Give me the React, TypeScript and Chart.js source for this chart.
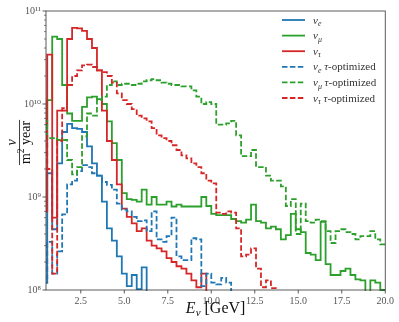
import React, { useEffect, useRef } from 'react';
import { Chart, registerables } from 'chart.js';

Chart.register(...registerables);

// ---------- data ----------
// Histogram: uniform bins of width 20/70 GeV; the arrays hold bins 1..69 (bin 0 lies left of the axis).
const BIN_WIDTH = 20 / 70;
const FIRST_BIN = 1;
const BELOW_AXIS = 1e6; // empty bins (0 events) are drawn below the 1e8 floor

const X_TICKS = [2.5, 5, 7.5, 10, 12.5, 15, 17.5, 20];
const Y_TICKS = [1e8, 1e9, 1e10, 1e11];
const Y_TICK_LABELS = ['10⁸', '10⁹', '10¹⁰', '10¹¹'];

const nuE = [
  1.2e8, 1.8e9, 4.5e8, 2.3e9, 5.0e9, 6.1e9, 5.5e9, 5.4e9, 5.0e9, 3.5e9,
  2.3e9, 1.7e9, 8.9e8, 4.6e8, 3.4e8, 2.3e8, 1.5e8, 1.1e8, 1.45e8, 1.02e8,
  1.75e8, 0, 0, 0, 0, 0, 0, 0, 0, 0,
  0, 0, 0, 0, 0, 0, 0, 0, 0, 0,
  0, 0, 0, 0, 0, 0, 0, 0, 0, 0,
  0, 0, 0, 0, 0, 0, 0, 0, 0, 0,
  0, 0, 0, 0, 0, 0, 0, 0, 0,
];

const nuMu = [
  6.0e9, 1.1e10, 5.3e10, 5.0e10, 1.6e10, 7.9e9, 6.6e9, 6.6e9, 9.3e9, 1.18e10,
  1.2e10, 1.13e10, 1.0e10, 6.5e9, 3.8e9, 2.5e9, 1.1e9, 9.5e8, 9.3e8, 8.9e8,
  1.2e9, 8.3e8, 1.0e9, 8.3e8, 8.3e8, 8.9e8, 7.9e8, 8.3e8, 7.9e8, 7.9e8,
  7.9e8, 7.9e8, 1.0e9, 8.0e8, 6.6e8, 6.4e8, 6.4e8, 6.4e8, 5.8e8, 5.5e8,
  5.3e8, 5.7e8, 8.3e8, 5.5e8, 5.3e8, 4.6e8, 4.8e8, 4.5e8, 3.5e8, 3.9e8,
  6.6e8, 4.5e8, 4.2e8, 2.5e8, 2.4e8, 2.1e8, 5.4e8, 1.9e8, 1.45e8, 1.45e8,
  1.6e8, 1.7e8, 1.45e8, 1.3e8, 1.27e8, 0, 1.27e8, 1.2e8, 1.0e8,
];

const nuTau = [
  7.0e8, 3.4e10, 6.0e8, 8.5e9, 8.5e9, 5.0e10, 6.6e10, 6.5e10, 6.1e10, 5.0e10,
  4.0e10, 2.3e10, 8.5e9, 4.0e9, 2.5e9, 1.37e9, 7.5e8, 6.1e8, 5.2e8, 4.3e8,
  4.6e8, 3.4e8, 3.0e8, 2.8e8, 2.6e8, 2.2e8, 2.0e8, 1.8e8, 1.7e8, 1.5e8,
  1.27e8, 1.07e8, 1.5e8, 0, 0, 0, 0, 0, 0, 0,
  0, 0, 0, 0, 0, 0, 0, 0, 0, 0,
  0, 0, 0, 0, 0, 0, 0, 0, 0, 0,
  0, 0, 0, 0, 0, 0, 0, 0, 0,
];

const nuEOpt = [
  1.2e8, 3.3e8, 1.5e8, 2.6e8, 6.5e8, 1.37e9, 1.5e9, 1.9e9, 2.2e9, 2.1e9,
  1.8e9, 1.7e9, 1.45e9, 1.35e9, 1.2e9, 8.5e8, 7.3e8, 7.0e8, 6.1e8, 5.5e8,
  5.6e8, 4.3e8, 7.0e8, 3.5e8, 3.3e8, 3.8e8, 6.0e8, 2.3e8, 2.1e8, 2.1e8,
  3.6e8, 3.5e8, 1.1e8, 1.5e8, 1.2e8, 1.15e8, 1.35e8, 1.2e8, 0, 0,
  0, 0, 0, 0, 0, 0, 0, 0, 0, 0,
  0, 0, 0, 0, 0, 0, 0, 0, 0, 0,
  0, 0, 0, 0, 0, 0, 0, 0, 0,
];

const nuMuOpt = [
  6.5e9, 4.3e9, 4.3e9, 4.1e9, 4.1e9, 2.5e9, 1.75e9, 2.1e9, 4.5e9, 7.9e9,
  7.5e9, 1.1e10, 1.2e10, 1.6e10, 1.75e10, 1.6e10, 1.65e10, 1.65e10, 1.6e10, 1.65e10,
  1.75e10, 1.8e10, 1.85e10, 1.8e10, 1.7e10, 1.65e10, 1.6e10, 1.6e10, 1.55e10, 1.55e10,
  1.4e10, 1.2e10, 1.0e10, 1.05e10, 1.0e10, 6.0e9, 6.0e9, 6.2e9, 6.6e9, 4.6e9,
  2.75e9, 2.75e9, 3.2e9, 2.1e9, 2.1e9, 1.7e9, 1.5e9, 1.5e9, 1.3e9, 8.0e8,
  9.5e8, 4.0e8, 8.5e8, 5.5e8, 5.3e8, 5.7e8, 5.5e8, 4.3e8, 3.2e8, 4.3e8,
  4.5e8, 4.2e8, 4.0e8, 3.5e8, 3.8e8, 3.8e8, 4.3e8, 3.5e8, 3.1e8,
];

const nuTauOpt = [
  5.0e9, 2.0e9, 1.5e8, 4.0e9, 9.0e9, 1.6e10, 2.0e10, 2.3e10, 2.6e10, 2.65e10,
  2.5e10, 2.3e10, 2.2e10, 2.0e10, 1.7e10, 1.3e10, 1.1e10, 1.0e10, 8.8e9, 7.5e9,
  7.0e9, 6.5e9, 5.5e9, 4.6e9, 4.3e9, 4.0e9, 3.6e9, 3.2e9, 2.8e9, 2.6e9,
  2.3e9, 2.1e9, 1.8e9, 1.5e9, 1.4e9, 6.8e8, 6.6e8, 7.0e8, 6.8e8, 4.6e8,
  2.3e8, 2.4e8, 2.8e8, 1.7e8, 1.07e8, 1.27e8, 1.05e8, 0, 0, 0,
  0, 0, 0, 0, 0, 0, 0, 0, 0, 0,
  0, 0, 0, 0, 0, 0, 0, 0, 0,
];

const SERIES = [nuE, nuMu, nuTau, nuEOpt, nuMuOpt, nuTauOpt];
const SERIES_LABELS = ['ν_e', 'ν_μ', 'ν_τ', 'ν_e τ-optimized', 'ν_μ τ-optimized', 'ν_τ τ-optimized'];

// ---------- styles ----------
const COLORS = ['#1f77b4', '#2ca02c', '#d62728', '#1f77b4', '#2ca02c', '#d62728'];
const DASHED = [false, false, false, true, true, true];
const DASH = [5.5, 2.4];
const LINE_WIDTH = 1.8;
const FONT = "'Liberation Serif', 'DejaVu Serif', serif";

type Part = { text: string; italic?: boolean; size: number; dy?: number };

function partsWidth(ctx: CanvasRenderingContext2D, parts: Part[]) {
  let w = 0;
  for (const p of parts) {
    ctx.font = `${p.italic ? 'italic ' : ''}${p.size}px ${FONT}`;
    w += ctx.measureText(p.text).width;
  }
  return w;
}

function drawParts(ctx: CanvasRenderingContext2D, x: number, y: number, parts: Part[]) {
  let cx = x;
  for (const p of parts) {
    ctx.font = `${p.italic ? 'italic ' : ''}${p.size}px ${FONT}`;
    ctx.fillText(p.text, cx, y + (p.dy || 0));
    cx += ctx.measureText(p.text).width;
  }
  return cx;
}

function labelParts(label: string, size: number): Part[] {
  // 'ν_e τ-optimized' -> ν (italic) + subscript + optional ' τ-optimized'
  const [head, ...rest] = label.split(' ');
  const [base, sub] = head.split('_');
  const parts: Part[] = [
    { text: base, italic: true, size },
    { text: sub, italic: true, size: size * 0.72, dy: size * 0.25 },
  ];
  if (rest.length) {
    const tail = rest.join(' ');
    parts.push({ text: ' ', size });
    parts.push({ text: tail.slice(0, 1), italic: true, size });
    parts.push({ text: tail.slice(1), size });
  }
  return parts;
}

const decorPlugin = {
  id: 'decor',
  afterDraw(chart: any) {
    const { ctx, chartArea: a, scales } = chart;
    const xs = scales.x;
    const ys = scales.y;
    ctx.save();

    // frame
    ctx.strokeStyle = '#333';
    ctx.lineWidth = 0.8;
    ctx.strokeRect(a.left, a.top, a.right - a.left, a.bottom - a.top);

    // major ticks
    ctx.beginPath();
    for (const v of X_TICKS) {
      const px = xs.getPixelForValue(v);
      ctx.moveTo(px, a.bottom);
      ctx.lineTo(px, a.bottom + 3.5);
    }
    for (const v of Y_TICKS) {
      const py = ys.getPixelForValue(v);
      ctx.moveTo(a.left - 3.5, py);
      ctx.lineTo(a.left, py);
    }
    ctx.stroke();
    // minor log ticks
    ctx.lineWidth = 0.6;
    ctx.beginPath();
    for (let i = 0; i < Y_TICKS.length - 1; i++) {
      for (let m = 2; m <= 9; m++) {
        const py = ys.getPixelForValue(m * Y_TICKS[i]);
        ctx.moveTo(a.left - 2, py);
        ctx.lineTo(a.left, py);
      }
    }
    ctx.stroke();

    // legend
    const lx0 = 282, lx1 = 305, tx = 313, ly0 = 20, lstep = 15.6;
    ctx.fillStyle = '#333';
    ctx.textBaseline = 'alphabetic';
    SERIES_LABELS.forEach((lab, i) => {
      const y = ly0 + i * lstep;
      ctx.strokeStyle = COLORS[i];
      ctx.lineWidth = LINE_WIDTH;
      ctx.setLineDash(DASHED[i] ? DASH : []);
      ctx.beginPath();
      ctx.moveTo(lx0, y);
      ctx.lineTo(lx1, y);
      ctx.stroke();
      ctx.setLineDash([]);
      drawParts(ctx, tx, y + 3.5, labelParts(lab, 11));
    });

    // x-axis title: E_ν [GeV]
    ctx.fillStyle = '#111';
    const xParts: Part[] = [
      { text: 'E', italic: true, size: 16 },
      { text: 'ν', italic: true, size: 11, dy: 3 },
      { text: ' [GeV]', size: 16 },
    ];
    const xw = partsWidth(ctx, xParts);
    drawParts(ctx, (a.left + a.right) / 2 - xw / 2, 313, xParts);

    // y-axis title: fraction ν / (m² year), rotated
    ctx.save();
    ctx.translate(19.5, 142.5);
    ctx.rotate(-Math.PI / 2);
    ctx.textBaseline = 'alphabetic';
    const num: Part[] = [{ text: 'ν', italic: true, size: 14 }];
    const den: Part[] = [
      { text: 'm', size: 14 },
      { text: '2', size: 9.5, dy: -5.5 },
      { text: ' year', size: 14 },
    ];
    const nw = partsWidth(ctx, num);
    drawParts(ctx, -nw / 2, -3.5, num);
    const dw = partsWidth(ctx, den);
    drawParts(ctx, -dw / 2, 10, den);
    ctx.strokeStyle = '#111';
    ctx.lineWidth = 0.8;
    ctx.beginPath();
    ctx.moveTo(-dw / 2 - 1, 0);
    ctx.lineTo(dw / 2 + 1, 0);
    ctx.stroke();
    ctx.restore();

    ctx.restore();
  },
};

export default function App() {
  const ref = useRef<HTMLCanvasElement | null>(null);

  useEffect(() => {
    if (!ref.current) return;
    const datasets = SERIES.map((vals, i) => {
      const pts = vals.map((v, k) => ({ x: (FIRST_BIN + k) * BIN_WIDTH, y: v > 0 ? v : BELOW_AXIS }));
      const last = vals[vals.length - 1];
      pts.push({ x: (FIRST_BIN + vals.length) * BIN_WIDTH, y: last > 0 ? last : BELOW_AXIS });
      return {
        label: SERIES_LABELS[i],
        data: pts,
        borderColor: COLORS[i],
        backgroundColor: COLORS[i],
        borderWidth: LINE_WIDTH,
        borderDash: DASHED[i] ? DASH : [],
        stepped: true as const,
        pointRadius: 0,
        fill: false,
        tension: 0,
        clip: { left: 0, top: 0, right: 0, bottom: 1 },
        order: SERIES.length - i,
      };
    });

    const chart = new Chart(ref.current, {
      type: 'line',
      data: { datasets },
      options: {
        animation: false,
        responsive: true,
        maintainAspectRatio: false,
        devicePixelRatio: 1,
        events: [],
        layout: { padding: { left: 0, right: 10, top: 5, bottom: 0 } },
        plugins: { legend: { display: false }, tooltip: { enabled: false } },
        scales: {
          x: {
            type: 'linear',
            min: 0.5,
            max: 20,
            grid: { display: false, drawTicks: false },
            border: { display: false },
            afterBuildTicks: (s: any) => {
              s.ticks = X_TICKS.map((v) => ({ value: v }));
            },
            afterFit: (s: any) => {
              s.height = 32;
            },
            ticks: {
              autoSkip: false,
              maxRotation: 0,
              padding: 5,
              color: '#555',
              font: { family: FONT, size: 10 },
              callback: (v: any) => Number(v).toFixed(1),
            },
          },
          y: {
            type: 'logarithmic',
            min: 1e8,
            max: 1e11,
            grid: { display: false, drawTicks: false },
            border: { display: false },
            afterBuildTicks: (s: any) => {
              s.ticks = Y_TICKS.map((v) => ({ value: v, major: true }));
            },
            afterFit: (s: any) => {
              s.width = 46;
            },
            ticks: {
              autoSkip: false,
              padding: 5,
              color: '#555',
              font: { family: FONT, size: 10 },
              callback: (v: any) => {
                const i = Y_TICKS.indexOf(Number(v));
                return i >= 0 ? Y_TICK_LABELS[i] : '';
              },
            },
          },
        },
      },
      plugins: [decorPlugin],
    });
    return () => chart.destroy();
  }, []);

  return (
    <div style={{ position: 'absolute', left: 0, top: 0, width: 399, height: 322, background: '#fff' }}>
      <canvas ref={ref} />
    </div>
  );
}
